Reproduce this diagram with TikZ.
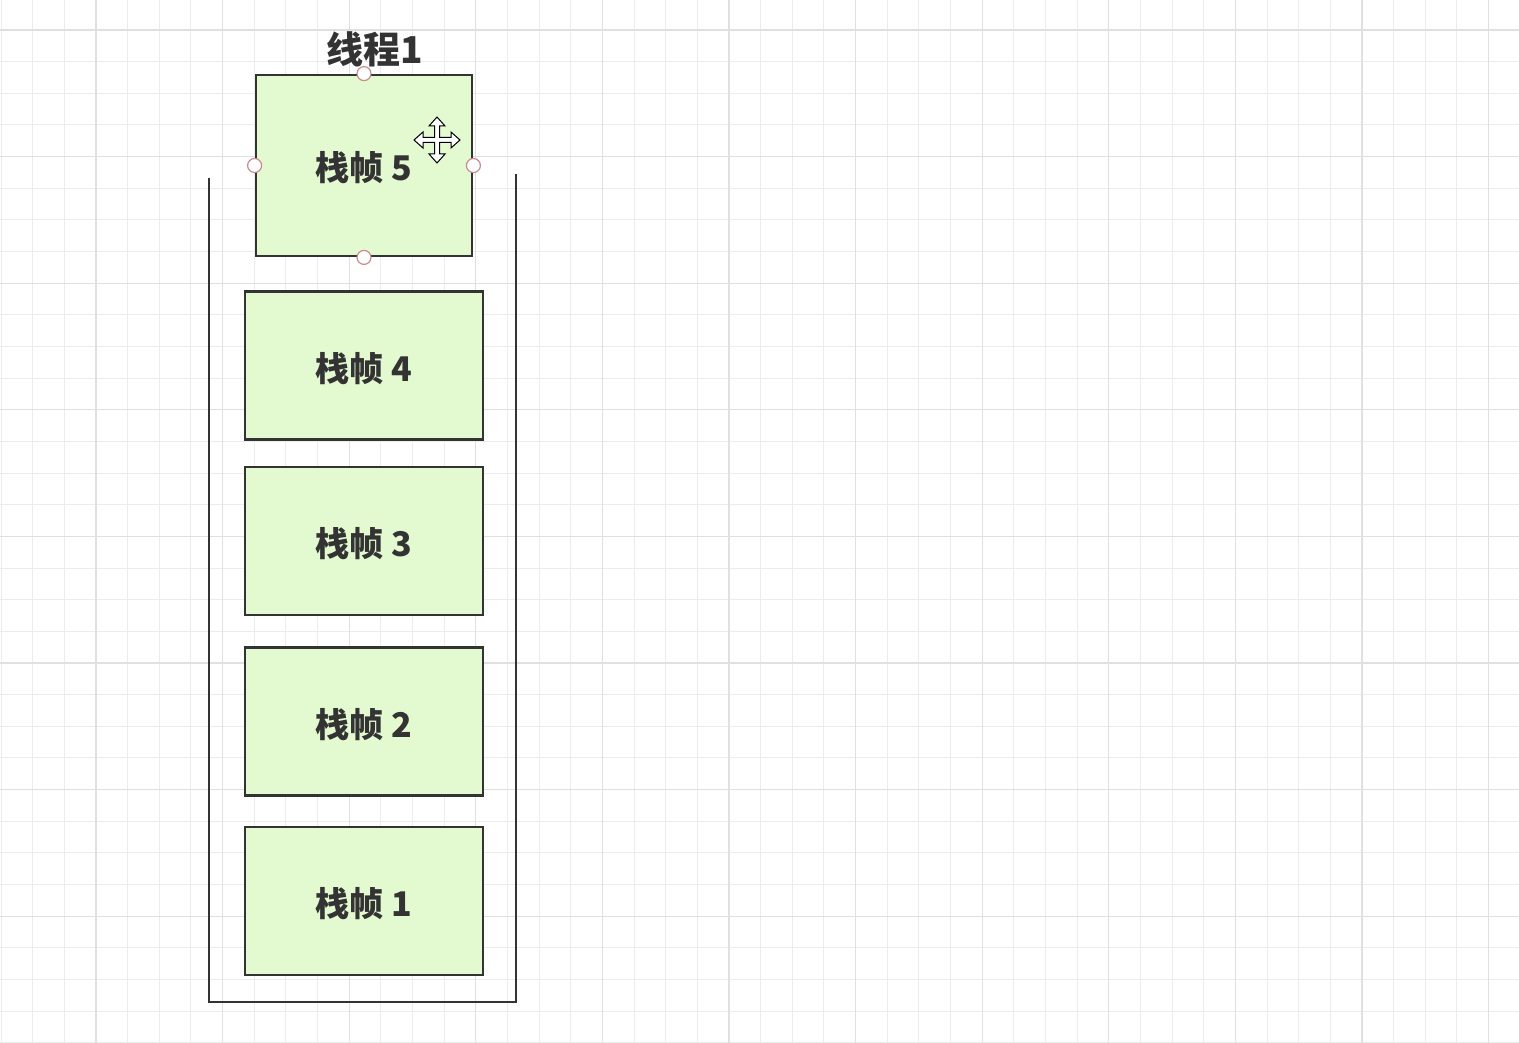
\documentclass[tikz,border=0pt]{standalone}
\usepackage{fontspec}
\newfontfamily\cjk{Noto Sans CJK SC}
\usetikzlibrary{positioning,calc}
\definecolor{framefill}{HTML}{E3F9CF}
\definecolor{frameline}{HTML}{333333}
\definecolor{gridminor}{HTML}{ECECEC}
\definecolor{gridmajor}{HTML}{E0E0E0}
\definecolor{handle}{HTML}{C98A8E}

\begin{document}
\begin{tikzpicture}[x=1pt,y=-1pt,
    framebox/.style={draw=frameline,fill=framefill,line width=2.8pt,
      minimum width=238pt,minimum height=148pt,inner sep=0pt,
      text height=31pt,text depth=0pt,
      font=\cjk\bfseries\fontsize{34}{36}\selectfont,text=frameline},
    selhandle/.style={draw=handle,fill=white,line width=1.2pt}]
    \useasboundingbox[fill=white] (0,0) rectangle (1519,1043);
    \foreach \k in {0,...,48} {
      \draw[gridminor,line width=1pt] (1+31.65*\k,0) -- (1+31.65*\k,1043);
    }
    \foreach \k in {-1,...,32} {
      \draw[gridminor,line width=1pt] (0,30+31.65*\k) -- (1519,30+31.65*\k);
    }
    \foreach \k in {0,...,11} {
      \draw[gridmajor,line width=1.3pt] (96+126.6*\k,0) -- (96+126.6*\k,1043);
    }
    \foreach \k in {0,...,7} {
      \draw[gridmajor,line width=1.3pt] (0,30+126.6*\k) -- (1519,30+126.6*\k);
    }
    \coordinate (stackTL) at (209,178);
    \coordinate (stackBL) at (209,1002);
    \coordinate (stackBR) at (516,1002);
    \coordinate (stackTR) at (516,174);
    \draw[frameline,line width=2.8pt] (stackTL) -- (stackBL) -- (stackBR) -- (stackTR);
    \foreach \n/\y in {1/901,2/721.5,3/541,4/365.5} {
      \node[framebox] (frame\n) at (364,\y) {栈帧 \n};
    }
    \node[framebox,minimum width=216pt,minimum height=181pt] (frame5) at (364,165.5) {栈帧 5};
    \node[font=\cjk\bfseries\fontsize{37}{40}\selectfont,text=frameline] (thread) at (375,49) {线程1};
    \foreach \a in {north,south,east,west} {
      \draw[selhandle] (frame5.\a) circle[radius=7pt];
    }
    \draw[black,fill=white,line width=1pt,shift={(437,140)}]
      (0,-23) -- (8,-14) -- (2.5,-14) -- (2.5,-2.5) -- (14,-2.5) -- (14,-8) -- (23,0)
      -- (14,8) -- (14,2.5) -- (2.5,2.5) -- (2.5,14) -- (8,14) -- (0,23)
      -- (-8,14) -- (-2.5,14) -- (-2.5,2.5) -- (-14,2.5) -- (-14,8) -- (-23,0)
      -- (-14,-8) -- (-14,-2.5) -- (-2.5,-2.5) -- (-2.5,-14) -- (-8,-14) -- cycle;
  \end{tikzpicture}
\end{document}
